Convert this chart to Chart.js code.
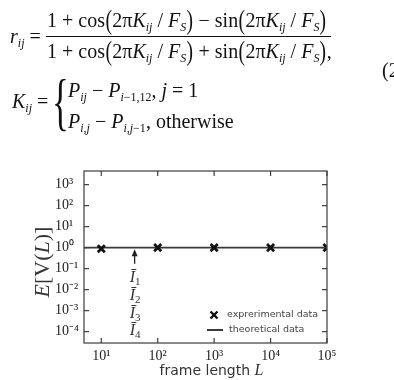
<!DOCTYPE html>
<html>
<head>
<meta charset="utf-8">
<script src="https://cdn.jsdelivr.net/npm/chart.js@4.4.0/dist/chart.umd.min.js"></script>
<style>
html, body { margin: 0; padding: 0; background: #fff; }
#wrap { position: relative; width: 394px; height: 380px; overflow: hidden; }
#chart { position: absolute; left: 0; top: 0; }
.m { position: absolute; font-family: "Liberation Serif", "Times New Roman", serif; font-size: 20px; line-height: 20px; white-space: nowrap; color: #111; }
.m sub { font-size: 12px; vertical-align: -4px; line-height: 0; }
.p { display: inline-block; font-size: 28px; line-height: 20px; transform: scaleX(0.7); vertical-align: -2px; margin: 0 -1px; }
.bar { position: absolute; height: 1px; background: #111; }
.brace { position: absolute; font-family: "Liberation Serif", serif; font-size: 64px; line-height: 64px; transform: scaleX(0.55); transform-origin: left top; color: #111; }
</style>
</head>
<body>
<div id="wrap">
  <canvas id="chart" width="394" height="380"></canvas>

  <!-- equation (2) au-dessus du graphe -->
  <div class="m" style="left:10px;top:26px"><i>r</i><sub><i>ij</i></sub> =</div>
  <div class="m" style="left:47px;top:10px">1 + cos<span class="p">(</span>2π<i>K</i><sub><i>ij</i></sub> / <i>F</i><sub><i>S</i></sub><span class="p">)</span> − sin<span class="p">(</span>2π<i>K</i><sub><i>ij</i></sub> / <i>F</i><sub><i>S</i></sub><span class="p">)</span></div>
  <div class="bar" style="left:46px;top:36px;width:285px"></div>
  <div class="m" style="left:47px;top:41px">1 + cos<span class="p">(</span>2π<i>K</i><sub><i>ij</i></sub> / <i>F</i><sub><i>S</i></sub><span class="p">)</span> + sin<span class="p">(</span>2π<i>K</i><sub><i>ij</i></sub> / <i>F</i><sub><i>S</i></sub><span class="p">)</span>,</div>
  <div class="m" style="left:382px;top:60px">(2)</div>
  <div class="m" style="left:12px;top:91px"><i>K</i><sub><i>ij</i></sub> =</div>
  <div class="brace" style="left:52px;top:70px">{</div>
  <div class="m" style="left:68px;top:80px"><i>P</i><sub><i>ij</i></sub> − <i>P</i><sub><i>i</i>−1,12</sub>, <i>j</i> = 1</div>
  <div class="m" style="left:68px;top:111px"><i>P</i><sub><i>i</i>,<i>j</i></sub> − <i>P</i><sub><i>i</i>,<i>j</i>−1</sub>, otherwise</div>
</div>

<script>
// donnees du graphe
const frameLengths = [10, 100, 1000, 10000, 100000];
const experimentalData = [0.88, 1.0, 1.0, 1.0, 1.0];
const theoryLengths = [4.94, 100000];
const theoryData = [1, 1];
const xTickExponents = [1, 2, 3, 4, 5];
const yTickExponents = [-4, -3, -2, -1, 0, 1, 2, 3];
const intervalLabels = ['1', '2', '3', '4'];

// fleche + etiquettes I1..I4
const arrowX = 39;
const arrowFrom = 0.17;
const arrowTo = 0.83;
const labelRows = [0.037, 0.0051, 0.00072, 0.000105];

const supMap = { '-': '⁻', '0': '⁰', '1': '¹', '2': '²', '3': '³', '4': '⁴', '5': '⁵', '6': '⁶', '7': '⁷', '8': '⁸', '9': '⁹' };

function tenPow(v) {
    let e = String(Math.round(Math.log10(v)));
    return '10' + e.split('').map(c => supMap[c]).join('');
}

function line(ctx, x1, y1, x2, y2) {
    ctx.beginPath();
    ctx.moveTo(x1, y1);
    ctx.lineTo(x2, y2);
    ctx.stroke();
}

// cadre, ticks vers l'interieur, legende, titres
const decorPlugin = {
    id: 'decor',
    afterDraw(chart) {
        const ctx = chart.ctx;
        const a = chart.chartArea;
        const x = chart.scales.x;
        const y = chart.scales.y;
        ctx.save();
        ctx.strokeStyle = '#3c3c3c';
        ctx.lineWidth = 1.2;
        ctx.strokeRect(a.left, a.top, a.right - a.left, a.bottom - a.top);
        x.ticks.forEach(t => {
            let px = x.getPixelForValue(t.value);
            line(ctx, px, a.bottom, px, a.bottom - 5);
            line(ctx, px, a.top, px, a.top + 5);
        });
        y.ticks.forEach(t => {
            let py = y.getPixelForValue(t.value);
            line(ctx, a.left, py, a.left + 5, py);
            line(ctx, a.right, py, a.right - 5, py);
        });

        // fleche
        let ax = x.getPixelForValue(arrowX);
        let ay1 = y.getPixelForValue(arrowFrom);
        let ay2 = y.getPixelForValue(arrowTo);
        ctx.strokeStyle = '#222';
        ctx.lineWidth = 1.3;
        line(ctx, ax, ay1, ax, ay2 + 5);
        ctx.fillStyle = '#222';
        ctx.beginPath();
        ctx.moveTo(ax, ay2);
        ctx.lineTo(ax - 3, ay2 + 7);
        ctx.lineTo(ax + 3, ay2 + 7);
        ctx.closePath();
        ctx.fill();

        // I barre 1..4
        ctx.fillStyle = '#333';
        ctx.textBaseline = 'middle';
        labelRows.forEach((v, i) => {
            let py = y.getPixelForValue(v);
            ctx.font = 'italic 16px "Liberation Serif", serif';
            ctx.fillText('Ī', ax - 5, py);
            let w = ctx.measureText('Ī').width;
            ctx.font = '11px "Liberation Serif", serif';
            ctx.fillText(intervalLabels[i], ax - 5 + w, py + 4);
        });

        // legende
        const exp = chart.data.datasets[0];
        const th = chart.data.datasets[1];
        ctx.strokeStyle = exp.borderColor;
        ctx.lineWidth = 2.4;
        let cx = a.right - 113, cy = a.bottom - 28;
        line(ctx, cx - 3.5, cy - 3.5, cx + 3.5, cy + 3.5);
        line(ctx, cx - 3.5, cy + 3.5, cx + 3.5, cy - 3.5);
        ctx.strokeStyle = th.borderColor;
        ctx.lineWidth = 2;
        line(ctx, a.right - 120, a.bottom - 13, a.right - 104, a.bottom - 13);
        ctx.fillStyle = '#444';
        ctx.font = '9.5px "DejaVu Sans", sans-serif';
        ctx.textBaseline = 'middle';
        ctx.fillText(exp.label, a.right - 100, cy);
        ctx.fillText(th.label, a.right - 98, a.bottom - 13);

        // titre axe x
        ctx.fillStyle = '#333';
        ctx.font = '14px "DejaVu Sans", sans-serif';
        let t1 = 'frame length ';
        let w1 = ctx.measureText(t1).width;
        ctx.font = 'italic 16px "Liberation Serif", serif';
        let w2 = ctx.measureText('L').width;
        let sx = (a.left + a.right) / 2 + 6 - (w1 + w2) / 2;
        ctx.font = '14px "DejaVu Sans", sans-serif';
        ctx.fillText(t1, sx, 371);
        ctx.font = 'italic 16px "Liberation Serif", serif';
        ctx.fillText('L', sx + w1, 371);

        // titre axe y : E[V(L)]
        const parts = [['E', true], ['[V(', false], ['L', true], [')]', false]];
        ctx.translate(43, (a.top + a.bottom) / 2 + 5);
        ctx.rotate(-Math.PI / 2);
        let total = 0;
        parts.forEach(p => {
            ctx.font = (p[1] ? 'italic ' : '') + '22px "Liberation Serif", serif';
            total += ctx.measureText(p[0]).width;
        });
        let px = -total / 2;
        parts.forEach(p => {
            ctx.font = (p[1] ? 'italic ' : '') + '22px "Liberation Serif", serif';
            ctx.fillText(p[0], px, 0);
            px += ctx.measureText(p[0]).width;
        });
        ctx.restore();
    }
};

const ctx = document.getElementById('chart').getContext('2d');
const chartEV = new Chart(ctx, {
    type: 'scatter',
    data: {
        datasets: [{
                label: 'exprerimental data',
                data: frameLengths.map((l, i) => ({ x: l, y: experimentalData[i] })),
                pointStyle: 'crossRot',
                pointRadius: 5,
                borderColor: '#111',
                borderWidth: 2.8,
                backgroundColor: '#111',
            },
            {
                label: 'theoretical data',
                data: theoryLengths.map((l, i) => ({ x: l, y: theoryData[i] })),
                showLine: true,
                pointRadius: 0,
                borderColor: '#3a3a3a',
                borderWidth: 1.6,
            }
        ]
    },
    options: {
        responsive: false,
        animation: false,
        devicePixelRatio: 1,
        layout: { padding: { left: 55, top: 171, right: 67, bottom: 0 } },
        plugins: { legend: { display: false }, tooltip: { enabled: false } },
        scales: {
            x: {
                type: 'logarithmic',
                min: 4.94,
                max: 100000,
                grid: { display: false, drawTicks: false },
                border: { display: false },
                afterBuildTicks: s => { s.ticks = xTickExponents.map(e => ({ value: Math.pow(10, e) })); },
                afterFit: s => { s.height = 37; },
                ticks: {
                    autoSkip: false,
                    maxRotation: 0,
                    padding: 5,
                    color: '#222',
                    font: { family: '"Liberation Serif", serif', size: 14 },
                    callback: v => tenPow(v)
                }
            },
            y: {
                type: 'logarithmic',
                min: 2.88e-5,
                max: 4467,
                grid: { display: false, drawTicks: false },
                border: { display: false },
                afterBuildTicks: s => { s.ticks = yTickExponents.map(e => ({ value: Math.pow(10, e) })); },
                afterFit: s => { s.width = 29; },
                ticks: {
                    autoSkip: false,
                    crossAlign: 'far',
                    padding: 0,
                    color: '#222',
                    font: { family: '"Liberation Serif", serif', size: 14 },
                    callback: v => tenPow(v)
                }
            }
        }
    },
    plugins: [decorPlugin]
});
</script>
</body>
</html>
